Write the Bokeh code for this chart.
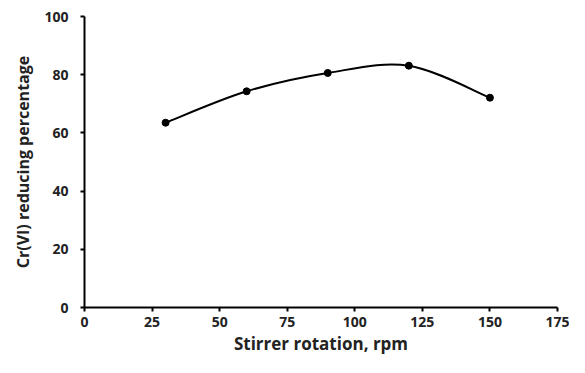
from bokeh.plotting import figure
from bokeh.embed import file_html
from bokeh.resources import INLINE
from bokeh.models import FixedTicker, Range1d

rpm = [30, 60, 90, 120, 150]
cr_pct = [63.5, 74.3, 80.6, 83.1, 72.1]
x_ticks = [0, 25, 50, 75, 100, 125, 150, 175]
y_ticks = [0, 20, 40, 60, 80, 100]

p = figure(width=569, height=357, output_backend="svg", toolbar_location=None,
           x_range=Range1d(0, 175), y_range=Range1d(0, 100),
           min_border_left=84, min_border_right=12, min_border_top=16, min_border_bottom=45)
p.outline_line_color = None
p.xgrid.visible = False
p.ygrid.visible = False
p.background_fill_color = "white"
p.border_fill_color = "white"

# Catmull-Rom smoothing -> cubic Bezier segments
n = len(rpm)
pts = list(zip(rpm, cr_pct))
x0s, y0s, x1s, y1s, cx0s, cy0s, cx1s, cy1s = ([] for _ in range(8))
for i in range(n - 1):
    pm = pts[i - 1] if i > 0 else pts[i]
    p0 = pts[i]
    p1 = pts[i + 1]
    p2 = pts[i + 2] if i + 2 < n else pts[i + 1]
    x0s.append(p0[0]); y0s.append(p0[1])
    x1s.append(p1[0]); y1s.append(p1[1])
    cx0s.append(p0[0] + (p1[0] - pm[0]) / 6); cy0s.append(p0[1] + (p1[1] - pm[1]) / 6)
    cx1s.append(p1[0] - (p2[0] - p0[0]) / 6); cy1s.append(p1[1] - (p2[1] - p0[1]) / 6)

p.bezier(x0=x0s, y0=y0s, x1=x1s, y1=y1s, cx0=cx0s, cy0=cy0s, cx1=cx1s, cy1=cy1s,
         line_color="black", line_width=2)
p.scatter(rpm, cr_pct, size=7, color="black")

font = "Open Sans"
for ax in (p.xaxis[0], p.yaxis[0]):
    ax.axis_line_width = 2
    ax.axis_line_color = "black"
    ax.major_tick_line_width = 2
    ax.major_tick_line_color = "black"
    ax.major_tick_out = 4
    ax.major_tick_in = 0
    ax.minor_tick_line_color = None
    ax.major_label_text_font = font
    ax.major_label_text_font_style = "bold"
    ax.major_label_text_font_size = "14px"
    ax.major_label_text_color = "#222222"
    ax.axis_label_text_font = font
    ax.axis_label_text_font_style = "bold"
    ax.axis_label_text_color = "#222222"

p.xaxis[0].axis_label_text_font_size = "17px"
p.yaxis[0].axis_label_text_font_size = "16px"
p.xaxis[0].ticker = FixedTicker(ticks=x_ticks)
p.yaxis[0].ticker = FixedTicker(ticks=y_ticks)
p.xaxis[0].axis_label = "Stirrer rotation, rpm"
p.yaxis[0].axis_label = "Cr(VI) reducing percentage"
p.xaxis[0].major_label_standoff = 5
p.yaxis[0].major_label_standoff = 12
p.xaxis[0].axis_label_standoff = 2
p.yaxis[0].axis_label_standoff = 7

open("out.html", "w").write(file_html(p, INLINE))
